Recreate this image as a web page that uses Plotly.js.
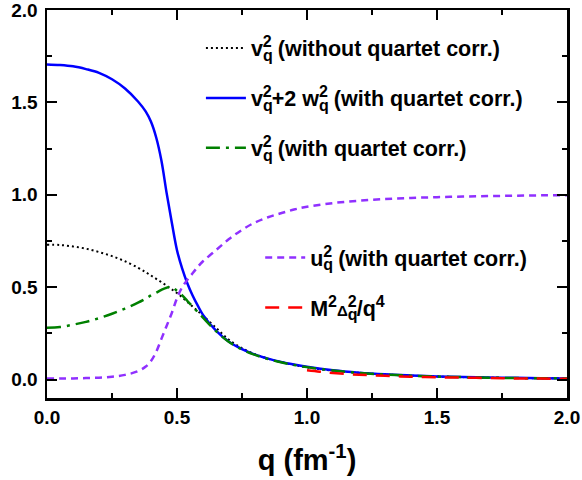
<!DOCTYPE html>
<html>
<head>
<meta charset="utf-8">
<script src="https://cdn.plot.ly/plotly-3.0.1.min.js"></script>
<style>html,body{margin:0;padding:0;background:#fff;}#chart{width:582px;height:480px;}</style>
</head>
<body>
<div id="chart"></div>
<script>
// q grid (fm^-1)
const q = [0,0.05,0.1,0.15,0.2,0.25,0.3,0.35,0.38,0.4,0.42,0.44,0.46,0.48,0.5,0.52,0.54,0.56,0.58,0.6,0.65,0.7,0.75,0.8,0.85,0.9,0.95,1.0,1.1,1.2,1.3,1.4,1.5,1.6,1.7,1.8,1.9,2.0];

// v_q^2 without quartet correlations (black dotted)
const v2NoQuartet = [0.73,0.728,0.72,0.708,0.69,0.668,0.64,0.605,0.58,0.563,0.545,0.527,0.508,0.488,0.468,0.445,0.42,0.395,0.37,0.345,0.28,0.215,0.17,0.137,0.113,0.094,0.079,0.066,0.048,0.036,0.027,0.021,0.016,0.013,0.01,0.008,0.007,0.006];

// v_q^2 + 2 w_q^2 with quartet correlations (blue solid)
const v2w2Quartet = [1.705,1.702,1.695,1.68,1.66,1.625,1.575,1.505,1.45,1.395,1.31,1.185,1.01,0.85,0.70,0.60,0.52,0.455,0.40,0.35,0.265,0.205,0.165,0.135,0.113,0.095,0.081,0.069,0.05,0.037,0.028,0.022,0.017,0.013,0.011,0.009,0.007,0.006];

// v_q^2 with quartet correlations (green dash-dot)
const v2Quartet = [0.28,0.284,0.297,0.312,0.332,0.356,0.384,0.416,0.438,0.455,0.47,0.485,0.497,0.50,0.48,0.455,0.425,0.395,0.365,0.335,0.262,0.203,0.163,0.133,0.111,0.093,0.079,0.067,0.049,0.036,0.027,0.021,0.016,0.013,0.01,0.008,0.007,0.006];

// u_q^2 with quartet correlations (purple dashed)
const u2Quartet = [0.005,0.005,0.006,0.008,0.01,0.015,0.025,0.045,0.07,0.1,0.15,0.22,0.29,0.36,0.44,0.5,0.54,0.575,0.61,0.64,0.70,0.76,0.81,0.85,0.878,0.9,0.92,0.935,0.955,0.968,0.977,0.983,0.987,0.99,0.993,0.995,0.997,0.998];

// M^2 Delta_q^2 / q^4 (red dashed)
const qRed = [1.0,1.05,1.1,1.2,1.3,1.4,1.5,1.6,1.7,1.8,1.9,2.0];
const mDelta = [0.05,0.042,0.035,0.026,0.02,0.015,0.012,0.01,0.008,0.006,0.005,0.004];

const xTicks = [0,0.5,1.0,1.5,2.0];
const xTickText = ['0.0','0.5','1.0','1.5','2.0'];
const yTicks = [0,0.5,1.0,1.5,2.0];
const yTickText = ['0.0','0.5','1.0','1.5','2.0'];

const FONT = 'Liberation Sans, Arial, Helvetica, sans-serif';
const stack = (sub) => '<sub><span style="font-size:16px;letter-spacing:-9.8px">' + sub + '</span></sub><sup><span style="font-size:16px">2</span></sup>';

const names = [
  'v' + stack('q') + ' (without quartet corr.)',
  'v' + stack('q') + '+2 w' + stack('q') + ' (with quartet corr.)',
  'v' + stack('q') + ' (with quartet corr.)',
  'u' + stack('q') + ' (with quartet corr.)',
  'M<sup><span style="font-size:16px">2</span></sup><span style="font-size:15px">Δ</span>' + stack('q') + '/q<sup><span style="font-size:16px">4</span></sup>'
];

const traces = [
  {x:q, y:v2NoQuartet, name:names[0], legend:'legend', legendgroup:'a', line:{color:'#000000', width:2, dash:'2px,3px', shape:'spline'}},
  {x:q, y:v2w2Quartet, name:names[1], legend:'legend', legendgroup:'b', line:{color:'#0000ff', width:2.5, shape:'spline'}},
  {x:q, y:v2Quartet, name:names[2], legend:'legend', legendgroup:'c', line:{color:'#008000', width:2.5, dash:'14px,6px,3px,6px', shape:'spline'}},
  {x:q, y:u2Quartet, name:names[3], legend:'legend2', legendgroup:'d', line:{color:'#9030ff', width:2.5, dash:'7px,5px', shape:'spline'}},
  {x:qRed, y:mDelta, name:names[4], legend:'legend2', legendgroup:'e', line:{color:'#ff0000', width:2.5, dash:'14px,9px', shape:'spline'}}
].map(t => Object.assign({type:'scatter', mode:'lines', hoverinfo:'skip'}, t));

const axisCommon = {
  showline:true, linecolor:'#000', linewidth:2.5, mirror:'allticks',
  ticks:'inside', ticklen:10, tickwidth:2, tickcolor:'#000',
  showgrid:false, zeroline:false, ticklabeloverflow:'allow',
  tickfont:{family:FONT, size:19, color:'#000', weight:'bold'},
  minor:{dtick:0.25, ticks:'inside', ticklen:5, tickwidth:2, tickcolor:'#000', showgrid:false}
};

const legendCommon = {
  xanchor:'left', yanchor:'top', bgcolor:'rgba(0,0,0,0)', borderwidth:0,
  font:{family:FONT, size:21.5, color:'#000', weight:'bold'},
  itemwidth:40, traceorder:'grouped', tracegroupgap:19, itemclick:false
};

const layout = {
  width:582, height:480,
  margin:{l:47, r:15, t:10, b:82, pad:0},
  paper_bgcolor:'#fff', plot_bgcolor:'#fff',
  showlegend:true,
  xaxis:Object.assign({}, axisCommon, {
    range:[0,2.0], tickvals:xTicks, ticktext:xTickText, ticklabelstandoff:1,
    title:{text:'q (fm<sup>-1</sup>)', font:{family:FONT, size:29, color:'#000', weight:'bold'}, standoff:23}
  }),
  yaxis:Object.assign({}, axisCommon, {
    range:[-0.1,2.0], tickvals:yTicks, ticktext:yTickText, ticklabelstandoff:3
  }),
  legend:Object.assign({}, legendCommon, {x:0.296, y:0.955}),
  legend2:Object.assign({}, legendCommon, {x:0.41, y:0.415})
};

Plotly.newPlot('chart', traces, layout, {displayModeBar:false, staticPlot:true});
</script>
</body>
</html>
